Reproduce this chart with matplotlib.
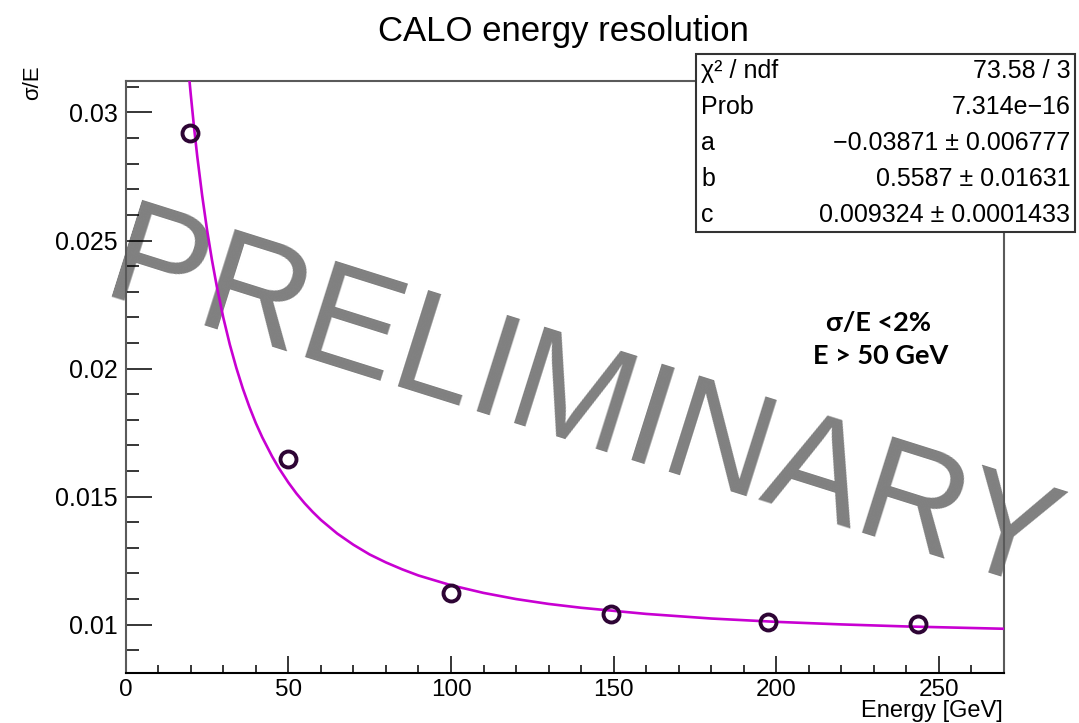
import matplotlib.pyplot as plt
from matplotlib.patches import Rectangle
from matplotlib.ticker import MultipleLocator

plt.rcParams['font.family'] = ['Liberation Sans', 'DejaVu Sans']

# measured points
energy = [19.8, 49.9, 100.1, 149.2, 197.4, 243.7]
sigma_e = [0.0292, 0.01645, 0.01125, 0.01042, 0.01009, 0.01003]

# fit curve
fit_e = [19, 19.5, 20, 21, 22, 23.5, 25, 26.5, 28, 30, 32, 34, 36, 38, 40, 42, 45, 47,
         50, 52.5, 55, 57.5, 60, 65, 70, 75, 80, 85, 90, 100, 110, 120, 130, 140, 160,
         180, 200, 220, 240, 270]
fit_s = [0.03210, 0.03138, 0.03070, 0.02943, 0.02828, 0.02676, 0.02542, 0.02425,
         0.02321, 0.02199, 0.02094, 0.02003, 0.01922, 0.01851, 0.01787, 0.01731,
         0.01657, 0.01613, 0.01555, 0.01512, 0.01474, 0.01440, 0.01409, 0.01356,
         0.01312, 0.01274, 0.01243, 0.01216, 0.01192, 0.01154, 0.01124, 0.01100,
         0.01081, 0.01066, 0.01042, 0.01024, 0.01011, 0.01001, 0.00993, 0.00984]

stat_names = ['\u03c7\u00b2 / ndf', 'Prob', 'a', 'b', 'c']
stat_vals = ['73.58 / 3', '7.314e\u221216', '\u22120.03871 \u00b1 0.006777',
             '0.5587 \u00b1 0.01631', '0.009324 \u00b1 0.0001433']

fig = plt.figure(figsize=(10.79, 7.23), dpi=100)
ax = fig.add_axes([0.1165, 0.0687, 0.814, 0.8197])

ax.plot(fit_e, fit_s, color='#c800d2', lw=1.9, zorder=3, solid_joinstyle='round')
ax.plot(energy, sigma_e, 'o', mfc='none', mec='#2e0535', ms=11.5, mew=2.8, zorder=4)

ax.set_xlim(0, 270)
ax.set_ylim(0.0081, 0.03124)
ax.xaxis.set_major_locator(MultipleLocator(50))
ax.xaxis.set_minor_locator(MultipleLocator(10))
ax.yaxis.set_major_locator(MultipleLocator(0.005))
ax.yaxis.set_minor_locator(MultipleLocator(0.001))
ax.set_yticks([0.01, 0.015, 0.02, 0.025, 0.03])
ax.set_yticklabels(['0.01', '0.015', '0.02', '0.025', '0.03'])
ax.tick_params(axis='both', which='both', direction='in', labelsize=18, pad=5.5, width=1.1)
ax.tick_params(axis='x', labelsize=17.5, pad=4)
ax.tick_params(axis='y', which='major', length=19)
ax.tick_params(axis='y', which='minor', length=9)
ax.tick_params(axis='x', which='major', length=12)
ax.tick_params(axis='x', which='minor', length=6)
for s in ['left', 'right', 'top']:
    ax.spines[s].set_color('#5a5a5a')
    ax.spines[s].set_linewidth(1.5)
ax.spines['bottom'].set_color('black')
ax.spines['bottom'].set_linewidth(1.5)

# watermark, under the curve
ax.text(0.092, 0.590, 'PRELIMINARY', transform=fig.transFigure, rotation=-17.5,
        rotation_mode='anchor', ha='left', va='baseline', fontsize=105,
        color='#808080', clip_on=False, zorder=1)

fig.text(0.522, 0.956, 'CALO energy resolution', ha='center', va='center', fontsize=25)
fig.text(0.929, 0.001, 'Energy [GeV]', ha='right', va='bottom', fontsize=17)
fig.text(0.030, 0.91, '\u03c3/E', ha='center', va='top', rotation=90, fontsize=16)

fig.text(0.814, 0.553, '\u03c3/E <2%', ha='center', va='center', fontsize=19.5,
         fontweight='bold', family=['Lato', 'DejaVu Sans'])
fig.text(0.816, 0.507, 'E > 50 GeV', ha='center', va='center', fontsize=19.5,
         fontweight='bold', family=['Lato', 'DejaVu Sans'])

# stats box
fig.add_artist(Rectangle((0.645, 0.679), 0.3513, 0.2463, transform=fig.transFigure,
                         facecolor='white', edgecolor='#333333', lw=1.5, zorder=5))
rows_y = [71, 107, 143, 179, 215]
for name, val, py in zip(stat_names, stat_vals, rows_y):
    fig.text(0.650, 1 - py / 723.0, name, ha='left', va='center', fontsize=18, zorder=6)
    fig.text(0.992, 1 - py / 723.0, val, ha='right', va='center', fontsize=18, zorder=6)

fig.savefig('out.png', dpi=100)
